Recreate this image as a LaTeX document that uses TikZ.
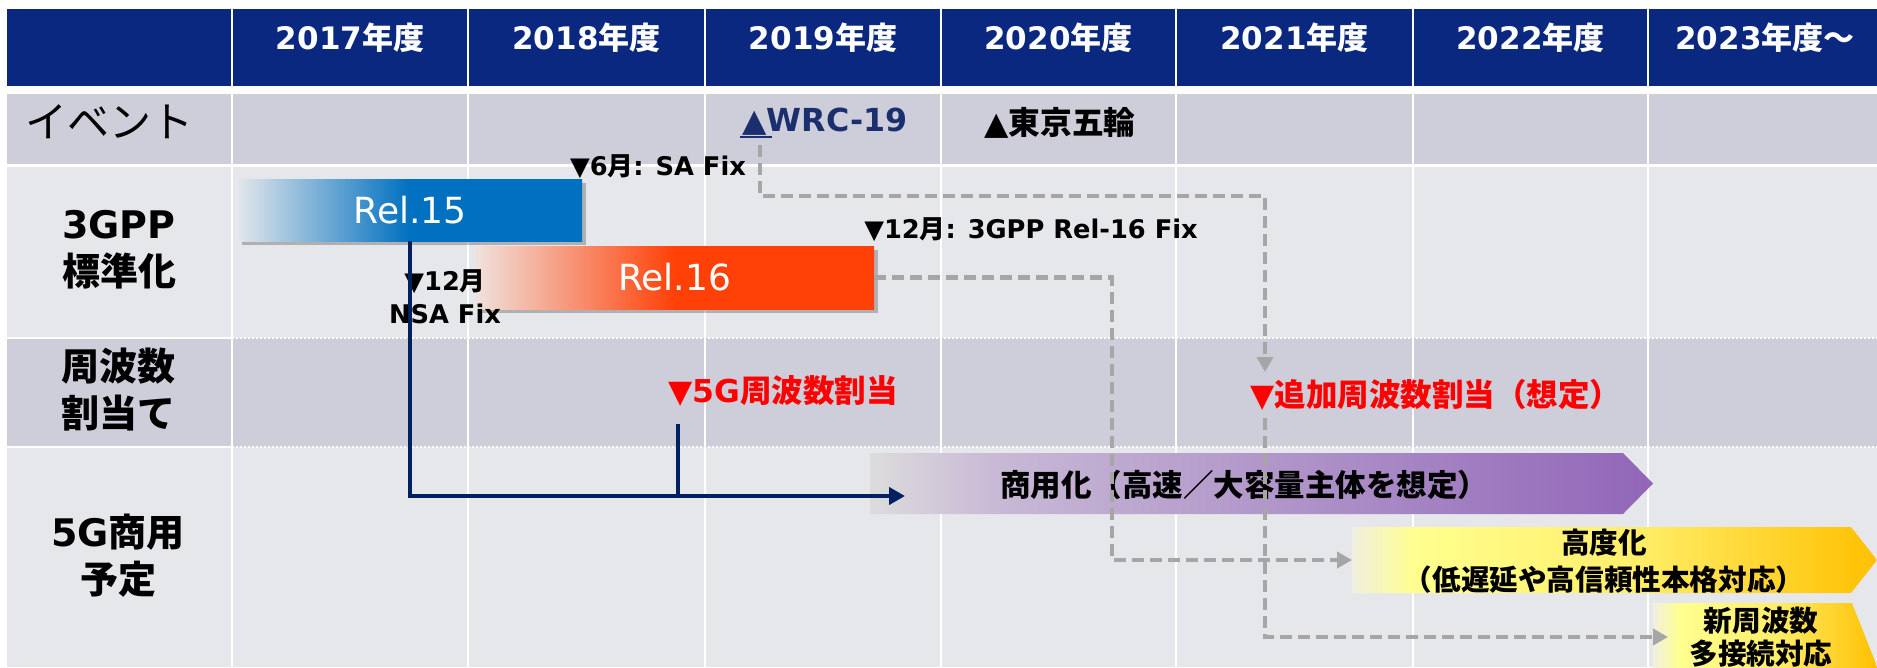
\documentclass[tikz,border=0pt]{standalone}
\usepackage{fontspec}
\setmainfont{DejaVu Sans}
\newfontfamily\jp{Noto Sans CJK JP}
\newcommand\J[1]{{\jp #1}}
\usetikzlibrary{shadows,arrows.meta}

\definecolor{hdr}{HTML}{0B2880}
\definecolor{rowA}{HTML}{CDCEDA}
\definecolor{rowB}{HTML}{E6E7EB}
\definecolor{navy}{HTML}{002060}
\definecolor{wrcc}{HTML}{1B2F6E}
\definecolor{dgray}{HTML}{A6A6A6}
\definecolor{redt}{HTML}{FF0000}
\definecolor{b1}{HTML}{E2E6EA}
\definecolor{b2}{HTML}{0070C0}
\definecolor{r1}{HTML}{F0E2DE}
\definecolor{r2}{HTML}{FF4108}
\definecolor{p0}{HTML}{DCDCDC}
\definecolor{p1}{HTML}{C8B9D6}
\definecolor{p2}{HTML}{9166B8}
\definecolor{y0}{HTML}{F0EFE0}
\definecolor{y1}{HTML}{FFFF8E}
\definecolor{ym}{HTML}{FFEE6A}
\definecolor{y2}{HTML}{FFC000}

\pgfdeclarehorizontalshading{relblue}{100bp}{color(0bp)=(b1); color(25bp)=(b1); color(50bp)=(b2); color(100bp)=(b2)}
\pgfdeclarehorizontalshading{relred}{100bp}{color(0bp)=(r1); color(25bp)=(r1); color(50bp)=(r2); color(100bp)=(r2)}
\pgfdeclarehorizontalshading{purp}{100bp}{color(0bp)=(p0); color(25bp)=(p0); color(33bp)=(p1); color(75bp)=(p2); color(100bp)=(p2)}
\pgfdeclarehorizontalshading{yell}{100bp}{color(0bp)=(y0); color(25bp)=(y0); color(31bp)=(y1); color(52bp)=(ym); color(75bp)=(y2); color(100bp)=(y2)}

\begin{document}
\begin{tikzpicture}[x=1pt,y=-1pt,
  hdrtxt/.style={text=white, inner sep=0, font=\fontsize{31}{31}\selectfont\bfseries},
  lblb/.style={inner sep=0, align=center, font=\fontsize{38}{47}\selectfont\bfseries},
  evt/.style={inner sep=0, font=\fontsize{31.7}{31.7}\selectfont\bfseries},
  ann/.style={inner sep=0, align=center, font=\fontsize{25.7}{33}\selectfont\bfseries},
  redlbl/.style={inner sep=0, text=redt, font=\fontsize{31.5}{31.5}\selectfont\bfseries},
  relbar/.style={inner sep=0, text=white, font=\fontsize{36}{36}\selectfont,
    drop shadow={shadow xshift=4pt, shadow yshift=-4pt, opacity=0.35, fill=black!70}},
  bartxt/.style={inner sep=0, align=center, font=\fontsize{28.6}{37}\selectfont\bfseries},
  navyline/.style={draw=navy, line width=4pt},
  navyarrow/.style={navyline, -{Triangle[length=16pt,width=17pt]}},
  grayarrow/.style={draw=dgray, line width=4.5pt, dash pattern=on 12pt off 6pt, -{Triangle[length=15pt,width=16pt]}}
]
\useasboundingbox (0,0) rectangle (1877,667);
\fill[white] (0,0) rectangle (1877,667);
% table
\fill[hdr] (7,9) rectangle (1877,86);
\fill[rowA] (7,94) rectangle (1877,164);
\fill[rowB] (7,167) rectangle (1877,338);
\fill[rowA] (7,338) rectangle (1877,447);
\fill[rowB] (7,447) rectangle (1877,667);
\foreach \x in {232,468,705,941,1176,1413,1648}
  \draw[white, line width=2.5pt] (\x,9) -- (\x,667);
\draw[white, line width=2.5pt] (7,338) -- (232,338) (7,447) -- (232,447);
\draw[white, line width=2pt, dash pattern=on 2pt off 2pt] (232,338) -- (1877,338) (232,447) -- (1877,447);

% header
\node[hdrtxt] (h2017) at (350,38) {2017\J{年度}};
\node[hdrtxt] (h2018) at (586.5,38) {2018\J{年度}};
\node[hdrtxt] (h2019) at (823,38) {2019\J{年度}};
\node[hdrtxt] (h2020) at (1058.5,38) {2020\J{年度}};
\node[hdrtxt] (h2021) at (1294.5,38) {2021\J{年度}};
\node[hdrtxt] (h2022) at (1530.5,38) {2022\J{年度}};
\node[hdrtxt] (h2023) at (1765,38) {2023\J{年度～}};

% row labels
\node[inner sep=0, font=\fontsize{42}{42}\selectfont] (lev) at (109,122) {\J{イベント}};
\node[lblb] (l3gpp) at (119,250) {3GPP\\\J{標準化}};
\node[lblb] (lfreq) at (118,390) {\J{周波数}\\\J{割当て}};
\node[lblb] (l5g) at (118,556) {5G\J{商用}\\\J{予定}};

% events
\node[evt, text=wrcc] (wrc) at (825,122) {▲WRC-19};
\draw[wrcc, line width=2pt] (740,137) -- (772,137);
\node[evt] (tokyo) at (1060,123) {▲\J{東京五輪}};

% annotations
\node[ann] (saf) at (658,167) {▼6\J{月}: SA Fix};
\node[ann] (r16f) at (1031,230) {▼12\J{月}: 3GPP Rel-16 Fix};
\node[redlbl] (f5g) at (783,391) {▼5G\J{周波数割当}};
\node[redlbl] (fadd) at (1436,395) {▼\J{追加周波数割当（想定）}};

% release bars
\node[relbar, shading=relblue, minimum width=344pt, minimum height=62pt] (rel15) at (410,210) {Rel.15};
\node[relbar, shading=relred, minimum width=399pt, minimum height=63pt] (rel16) at (674.5,277.5) {Rel.16};
\node[ann] (nsa) at (445,297) {▼12\J{月}\\NSA Fix};

% commercial bars
\shade[shading=purp] (870,453) -- (1623,453) -- (1653,483.5) -- (1623,514) -- (870,514) -- cycle;
\shade[shading=yell] (1352,527) -- (1851,527) -- (1877,560) -- (1851,593) -- (1352,593) -- cycle;
\shade[shading=yell] (1653,603) -- (1852,603) -- (1878,669) -- (1852,735) -- (1653,735) -- cycle;
\node[bartxt, font=\fontsize{30.5}{30.5}\selectfont\bfseries] (comm) at (1244,485) {\J{商用化（高速／大容量主体を想定）}};
\node[bartxt] (adv) at (1604,561) {\J{高度化}\\\J{（低遅延や高信頼性本格対応）}};
\node[bartxt, font=\fontsize{28.6}{33}\selectfont\bfseries] (newf) at (1761,637) {\J{新周波数}\\\J{多接続対応}};

% connectors
\coordinate (navyend) at (905,496);
\coordinate (f5gfoot) at (678,424);
\draw[navyarrow] (rel15.south) -- (rel15.south |- navyend) -- (navyend);
\draw[navyline] (f5gfoot) -- (f5gfoot |- navyend);

\coordinate (wrcfoot) at (760,145);
\coordinate (bendA) at (1265,196);
\coordinate (faddtop) at (1265,372);
\draw[grayarrow] (wrcfoot) -- (wrcfoot |- bendA) -- (bendA) -- (faddtop);

\coordinate (bendB) at (1112,277.5);
\coordinate (advin) at (1352,560);
\draw[grayarrow] (rel16.east) -- (bendB) -- (bendB |- advin) -- (advin);

\coordinate (faddfoot) at (1265,418);
\coordinate (newfin) at (1668,637);
\draw[grayarrow] (faddfoot) |- (newfin);
\end{tikzpicture}
\end{document}
